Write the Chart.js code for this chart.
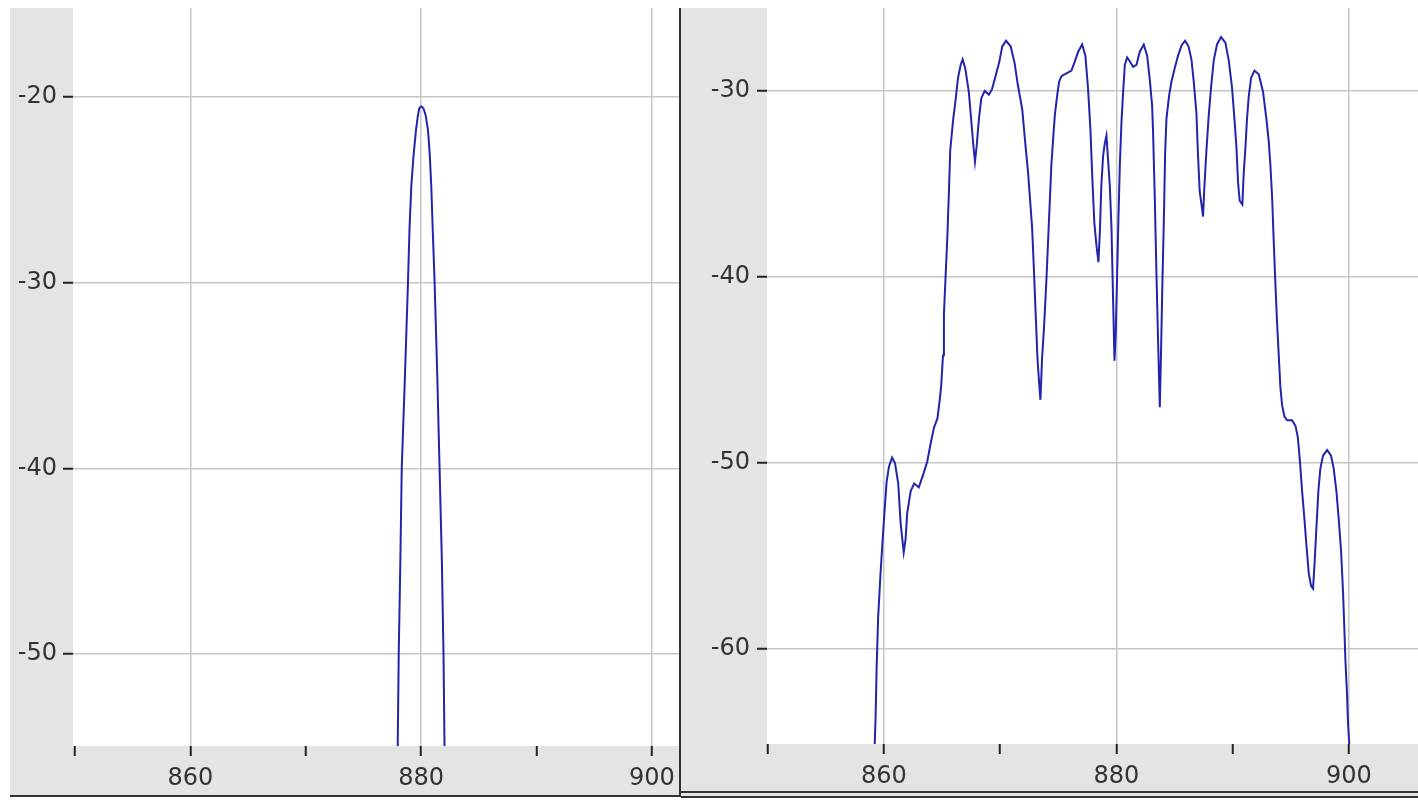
<!DOCTYPE html>
<html>
<head>
<meta charset="utf-8">
<script src="https://cdn.jsdelivr.net/npm/chart.js@4/dist/chart.umd.min.js"></script>
<style>
  html, body { margin: 0; padding: 0; background: #fff; }
  body { width: 1418px; height: 800px; position: relative; overflow: hidden; }
  .panel { position: absolute; background: #e4e4e4; }
  #leftPanel { left: 10px; top: 8px; width: 669px; height: 787px;
    border-right: 2px solid #333; border-bottom: 2px solid #333; }
  #rightPanel { left: 681px; top: 8px; width: 737px; height: 783px;
    border-bottom: 7px double #333; }
  canvas { display: block; }
</style>
</head>
<body>
<div class="panel" id="leftPanel"><canvas id="leftChart" width="669" height="787"></canvas></div>
<div class="panel" id="rightPanel"><canvas id="rightChart" width="737" height="783"></canvas></div>
<script>
// frequency axis (MHz) ticks, labels only every 20
const xTicks = [850, 860, 870, 880, 890, 900];
const xLabelTicks = [860, 880, 900];

// left spectrum: single narrow carrier
const leftFreq = [877.85, 877.97, 878.06, 878.2, 878.32, 878.6, 878.86, 879.0, 879.15, 879.35,
  879.55, 879.72, 879.84, 880.0, 880.2, 880.4, 880.6, 880.75, 880.88, 881.0,
  881.17, 881.4, 881.6, 881.8, 881.94, 882.03, 882.15];
const leftLevel = [-62, -55, -50, -45, -40, -35, -30, -27, -24.8, -23.1,
  -21.8, -21, -20.6, -20.5, -20.6, -21, -21.8, -23.1, -24.8, -27,
  -30, -35, -40, -45, -50, -55, -62];
const leftYTicks = [-50, -40, -30, -20];

// right spectrum: wideband signal
const rightFreq = [858.9, 859.2, 859.28, 859.37, 859.5, 859.7, 859.9, 860.06, 860.23, 860.43,
  860.7, 860.95, 861.23, 861.43, 861.7, 861.86, 862.0, 862.3, 862.6, 863.0,
  863.44, 863.73, 864.0, 864.3, 864.6, 864.8, 864.93, 865.08, 865.16, 865.3,
  865.45, 865.6, 865.7, 865.96, 866.16, 866.37, 866.6, 866.77, 867.0, 867.3,
  867.54, 867.7, 867.83, 867.97, 868.17, 868.37, 868.66, 869.03, 869.3, 869.6,
  869.9, 870.18, 870.5, 870.9, 871.24, 871.5, 871.9, 872.2, 872.4, 872.54,
  872.75, 872.9, 873.06, 873.2, 873.35, 873.46, 873.6, 873.78, 873.98, 874.2,
  874.4, 874.55, 874.7, 874.9, 875.07, 875.27, 875.7, 876.13, 876.4, 876.7,
  877.05, 877.33, 877.56, 877.76, 877.93, 878.1, 878.28, 878.45, 878.57, 878.7,
  878.85, 879.0, 879.14, 879.28, 879.43, 879.57, 879.71, 879.83, 879.94, 880.06,
  880.17, 880.29, 880.43, 880.57, 880.72, 880.92, 881.15, 881.43, 881.72, 882.0,
  882.35, 882.64, 882.87, 883.07, 883.15, 883.3, 883.44, 883.58, 883.73, 883.84,
  883.96, 884.07, 884.19, 884.3, 884.53, 884.73, 885.0, 885.3, 885.6, 885.9,
  886.2, 886.45, 886.65, 886.88, 887.0, 887.16, 887.36, 887.45, 887.56, 887.74,
  887.94, 888.14, 888.37, 888.65, 889.0, 889.37, 889.66, 889.94, 890.15, 890.32,
  890.46, 890.6, 890.83, 890.95, 891.1, 891.23, 891.38, 891.58, 891.87, 892.24,
  892.61, 892.9, 893.1, 893.24, 893.39, 893.53, 893.67, 893.82, 893.96, 894.1,
  894.25, 894.45, 894.68, 895.1, 895.4, 895.6, 895.77, 895.97, 896.17, 896.34,
  896.54, 896.74, 896.91, 897.06, 897.2, 897.37, 897.54, 897.77, 898.12, 898.46,
  898.69, 898.92, 899.12, 899.32, 899.49, 899.6, 899.69, 899.84, 899.92, 900.04,
  900.1];
const rightLevel = [-70, -65.2, -63.7, -61, -58.3, -56, -54, -52.5, -51, -50.2,
  -49.7, -50.0, -51.1, -53.2, -54.8, -54.1, -52.7, -51.5, -51.1, -51.3,
  -50.5, -49.9, -49, -48.1, -47.6, -46.6, -45.8, -44.2, -42, -40,
  -37.9, -35.2, -33.2, -31.5, -30.5, -29.3, -28.6, -28.3, -28.8, -30.05,
  -31.8, -33, -33.8, -33, -31.5, -30.4, -30, -30.2, -29.9, -29.2,
  -28.5, -27.6, -27.3, -27.6, -28.5, -29.6, -31, -33.1, -34.4, -35.6,
  -37.4, -39.6, -42.1, -44.3, -45.7, -46.6, -44.4, -42.6, -40.1, -36.9,
  -34.0, -32.6, -31.3, -30.25, -29.5, -29.2, -29.05, -28.9, -28.45, -27.9,
  -27.5, -28.1, -29.9, -32.05, -34.75, -37.1, -38.3, -39.2, -37.6, -35.1,
  -33.5, -32.8, -32.4, -33.7, -35.1, -37.3, -41.2, -44.5, -43.0, -39.8,
  -36.9, -34.0, -31.7, -30.1, -28.6, -28.2, -28.4, -28.7, -28.6, -27.9,
  -27.5, -28.1, -29.4, -30.8, -32.2, -35.8, -39.8, -43.4, -47.0, -43.9,
  -40.1, -37.2, -33.3, -31.5, -30.25, -29.5, -28.8, -28.1, -27.55, -27.3,
  -27.6, -28.3, -29.5, -31.2, -33.2, -35.4, -36.3, -36.75, -35.2, -33.2,
  -31.3, -29.8, -28.35, -27.5, -27.1, -27.4, -28.35, -29.8, -31.5, -33,
  -34.9, -35.9, -36.1, -34.4, -33, -31.5, -30.3, -29.3, -28.9, -29.1,
  -30.05, -31.5, -32.7, -33.95, -35.7, -38.1, -40.3, -42.5, -44.2, -45.9,
  -46.9, -47.5, -47.7, -47.7, -48.0, -48.6, -49.8, -51.5, -53.0, -54.4,
  -55.9, -56.6, -56.75, -55.2, -53.5, -51.5, -50.3, -49.6, -49.3, -49.6,
  -50.3, -51.5, -53.0, -54.7, -56.9, -58.8, -60.5, -62.5, -64, -65.2,
  -70];
const rightYTicks = [-60, -50, -40, -30];

const FONT = { family: "'DejaVu Sans', sans-serif", size: 24 };
const TEXT = '#333';
const GRID = '#c6c6c6';

// gray canvas, white plotting area
const plotBackground = {
  id: 'plotBackground',
  beforeDraw(chart) {
    const { ctx, chartArea: a } = chart;
    ctx.save();
    ctx.fillStyle = '#e4e4e4';
    ctx.fillRect(0, 0, chart.width, chart.height);
    ctx.fillStyle = '#fff';
    ctx.fillRect(a.left, a.top, a.right - a.left, a.bottom - a.top);
    ctx.restore();
  }
};

function makeChart(id, freq, level, xMin, xMax, yMin, yMax, yTicks, yAxisWidth, xAxisHeight, yPad) {
  const points = freq.map((f, i) => ({ x: f, y: level[i] }));
  return new Chart(document.getElementById(id), {
    type: 'line',
    data: {
      datasets: [{
        data: points,
        borderColor: '#2323ad',
        borderWidth: 2,
        pointRadius: 0,
        tension: 0,
        fill: false
      }]
    },
    options: {
      responsive: false,
      animation: false,
      devicePixelRatio: 1,
      layout: { padding: 0 },
      plugins: { legend: { display: false }, tooltip: { enabled: false } },
      scales: {
        x: {
          type: 'linear',
          min: xMin,
          max: xMax,
          border: { display: false },
          afterBuildTicks: (scale) => { scale.ticks = xTicks.map(v => ({ value: v })); },
          afterFit: (scale) => {
            scale.height = xAxisHeight;
            scale.paddingLeft = 0;
            scale.paddingRight = 0;
          },
          grid: {
            color: (c) => (c.tick && xLabelTicks.includes(c.tick.value)) ? GRID : 'rgba(0,0,0,0)',
            tickColor: '#222',
            tickLength: 10,
            lineWidth: 1.5,
            tickWidth: 2
          },
          ticks: {
            autoSkip: false,
            maxRotation: 0,
            padding: 8,
            color: TEXT,
            font: FONT,
            callback: (v) => xLabelTicks.includes(v) ? String(v) : ''
          }
        },
        y: {
          type: 'linear',
          min: yMin,
          max: yMax,
          border: { display: false },
          afterBuildTicks: (scale) => { scale.ticks = yTicks.map(v => ({ value: v })); },
          afterFit: (scale) => {
            scale.width = yAxisWidth;
            scale.paddingTop = 0;
            scale.paddingBottom = 0;
          },
          grid: {
            color: GRID,
            tickColor: '#222',
            tickLength: 10,
            lineWidth: 1.5,
            tickWidth: 2
          },
          ticks: {
            padding: yPad,
            color: TEXT,
            font: FONT,
            callback: (v) => String(v)
          }
        }
      }
    },
    plugins: [plotBackground]
  });
}

makeChart('leftChart', leftFreq, leftLevel, 849.83, 902.35, -54.95, -15.2, leftYTicks, 63, 49, 6);
makeChart('rightChart', rightFreq, rightLevel, 849.94, 905.94, -65.1, -25.54, rightYTicks, 86, 47, 7);
</script>
</body>
</html>
